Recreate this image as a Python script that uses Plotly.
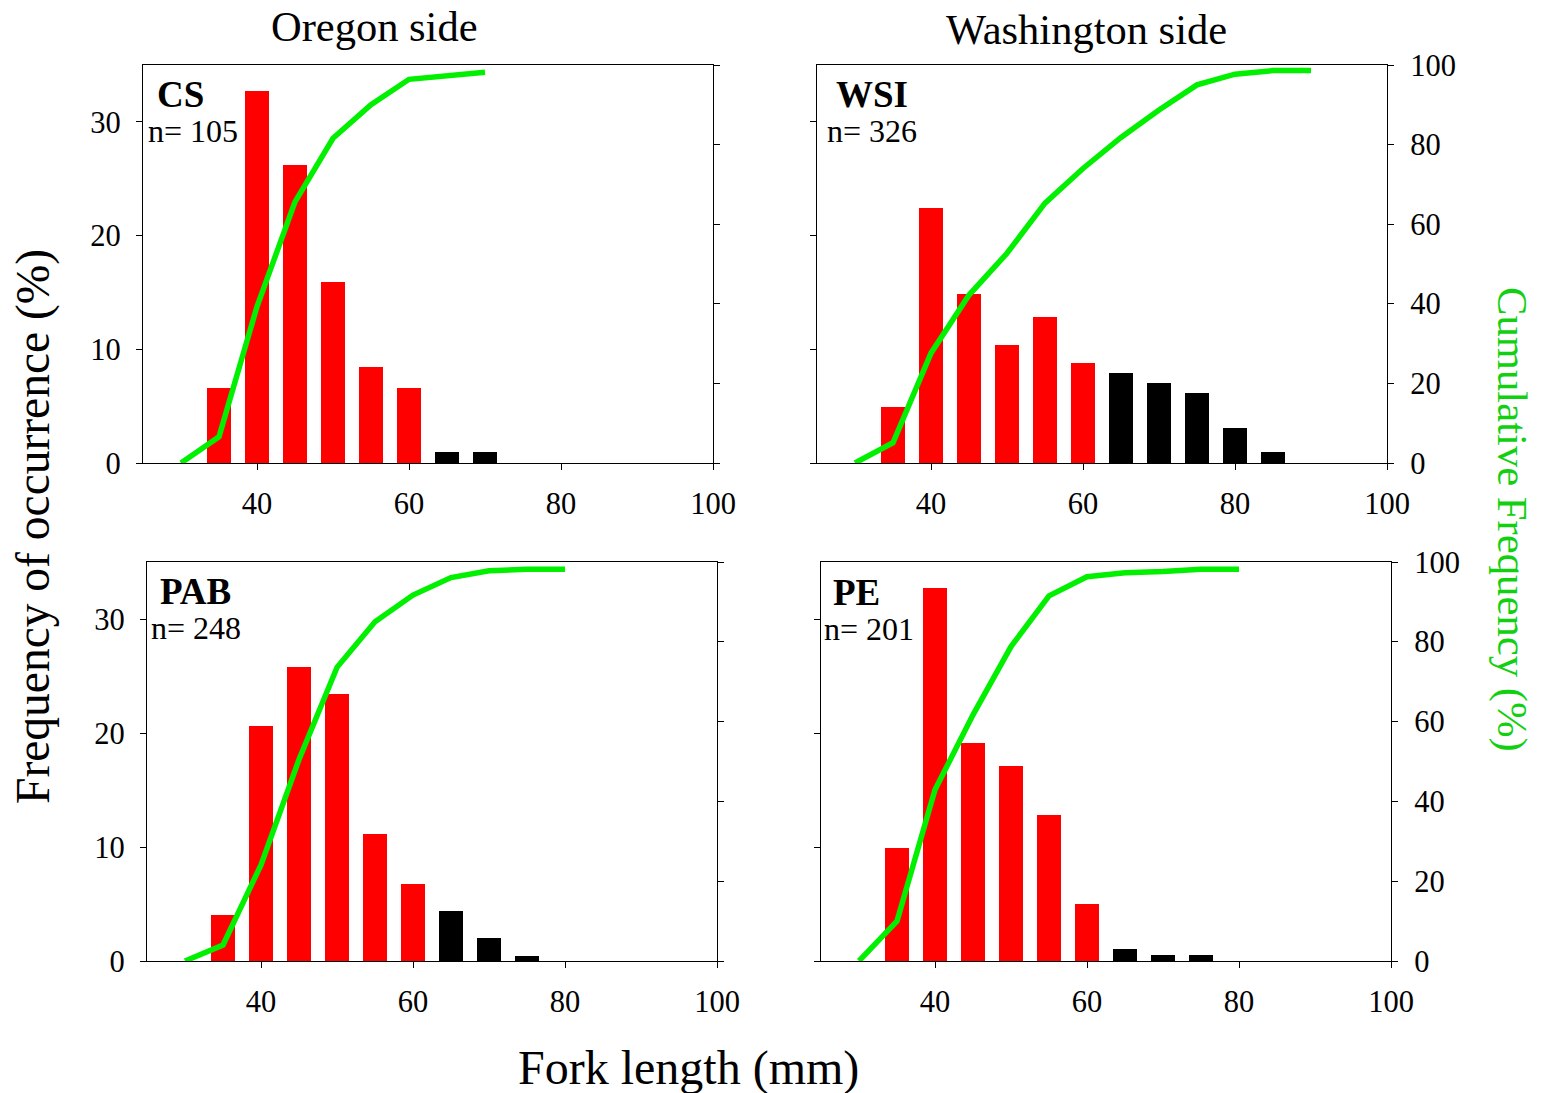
import plotly.graph_objects as go

W, H = 1545, 1093

# ---------------- data ----------------
panel_names = ["CS", "WSI", "PAB", "PE"]
panel_n = ["n= 105", "n= 326", "n= 248", "n= 201"]

cs_len = [35, 40, 45, 50, 55, 60, 65, 70]
cs_freq = [6.6, 32.7, 26.2, 15.9, 8.4, 6.6, 0.95, 0.95]
cs_cum_len = [30, 35, 40, 45, 50, 55, 60, 65, 70]
cs_cum = [0, 6.6, 39.3, 65.6, 81.6, 90.0, 96.4, 97.4, 98.2]

wsi_len = [35, 40, 45, 50, 55, 60, 65, 70, 75, 80, 85]
wsi_freq = [4.9, 22.4, 14.85, 10.35, 12.8, 8.8, 7.95, 7.05, 6.15, 3.1, 1.0]
wsi_cum_len = [30, 35, 40, 45, 50, 55, 60, 65, 70, 75, 80, 85, 90]
wsi_cum = [0, 5.1, 27.6, 42.2, 52.7, 65.3, 74.0, 81.8, 88.7, 95.0, 97.7, 98.6, 98.6]

pab_len = [35, 40, 45, 50, 55, 60, 65, 70, 75]
pab_freq = [4.0, 20.6, 25.8, 23.4, 11.1, 6.75, 4.4, 2.0, 0.45]
pab_cum_len = [30, 35, 40, 45, 50, 55, 60, 65, 70, 75, 80]
pab_cum = [0, 4.0, 24.1, 50.5, 73.6, 85.0, 91.7, 96.1, 97.8, 98.2, 98.2]

pe_len = [35, 40, 45, 50, 55, 60, 65, 70, 75]
pe_freq = [9.9, 32.7, 19.1, 17.1, 12.8, 5.0, 1.05, 0.55, 0.55]
pe_cum_len = [30, 35, 40, 45, 50, 55, 60, 65, 70, 75, 80]
pe_cum = [0, 10.0, 42.9, 61.7, 78.8, 91.5, 96.3, 97.3, 97.6, 98.2, 98.2]

black_from = 65  # bars at/after this length drawn black

x_ticks = [40, 60, 80, 100]
left_ticks = [0, 10, 20, 30]
right_ticks = [0, 20, 40, 60, 80, 100]

panels = [
    (cs_len, cs_freq, cs_cum_len, cs_cum),
    (wsi_len, wsi_freq, wsi_cum_len, wsi_cum),
    (pab_len, pab_freq, pab_cum_len, pab_cum),
    (pe_len, pe_freq, pe_cum_len, pe_cum),
]

# ---------------- layout geometry (pixels) ----------------
boxes = [  # x0, x1, ytop, ybottom
    (143, 713, 65, 463),
    (817, 1387, 65, 463),
    (147, 717, 562, 961),
    (821, 1391, 562, 961),
]

FONT = "Liberation Serif, Times New Roman, serif"
GREEN_LINE = "#00F000"
GREEN_TEXT = "#10D010"
TICKFONT = dict(family=FONT, size=30.5, color="black")

fig = go.Figure()
layout = dict(
    template="none",
    width=W, height=H,
    margin=dict(l=0, r=0, t=0, b=0, autoexpand=False),
    paper_bgcolor="white", plot_bgcolor="white",
    showlegend=False,
    font=dict(family=FONT, size=29, color="black"),
    bargap=0,
)

for i, (lens, freq, clen, cum) in enumerate(panels):
    k = i + 1
    xa = "x" if k == 1 else f"x{k}"
    yl_n = 2 * k - 1
    yr_n = 2 * k
    yl = "y" if yl_n == 1 else f"y{yl_n}"
    yr = f"y{yr_n}"
    colors = ["black" if L >= black_from else "#FF0000" for L in lens]
    fig.add_trace(go.Bar(x=lens, y=freq, width=3.2, marker=dict(color=colors, line=dict(width=0)),
                         xaxis=xa, yaxis=yl))
    fig.add_trace(go.Scatter(x=clen, y=cum, mode="lines", line=dict(color=GREEN_LINE, width=5.5),
                             xaxis=xa, yaxis=yr, cliponaxis=False))

    x0, x1, yt, yb = boxes[i]
    xdom = [x0 / W, x1 / W]
    ydom = [1 - yb / H, 1 - yt / H]
    right_panel = k in (2, 4)
    axkey_x = "xaxis" if k == 1 else f"xaxis{k}"
    axkey_yl = "yaxis" if yl_n == 1 else f"yaxis{yl_n}"
    axkey_yr = f"yaxis{yr_n}"
    common = dict(showline=True, linecolor="black", linewidth=1.3, ticks="outside", ticklen=6,
                  tickwidth=1.2, tickcolor="black", showgrid=False, zeroline=False,
                  automargin=False, tickfont=TICKFONT)
    layout[axkey_x] = dict(domain=xdom, anchor=yl, range=[25, 100], tickvals=x_ticks,
                           mirror=True, ticklabelstandoff=7, **common)
    layout[axkey_yl] = dict(domain=ydom, anchor=xa, range=[0, 35], tickvals=left_ticks,
                            showticklabels=not right_panel, ticklabelstandoff=9, **common)
    layout[axkey_yr] = dict(domain=ydom, anchor=xa, overlaying=yl, side="right", range=[0, 100],
                            tickvals=right_ticks, showticklabels=right_panel,
                            ticklabelstandoff=10, **common)

fig.update_layout(**layout)

ann = []
# panel labels: name (bold) on first line, sample size on second line
lab_pos = [(147, 111), (826, 111), (150, 608), (823, 609)]
for i in range(4):
    nx, cy = lab_pos[i]
    txt = ("<span style='font-size:18px'>\u2002</span>"
           f"<span style='font-size:37px'><b>{panel_names[i]}</b></span><br>"
           f"<span style='font-size:32px'>{panel_n[i]}</span>")
    ann.append(dict(text=txt, x=nx / W, y=1 - cy / H, xref="paper", yref="paper",
                    xanchor="left", yanchor="middle", align="left", showarrow=False, borderpad=0,
                    font=dict(size=27, family=FONT)))

ann.append(dict(text="Oregon side", x=374 / W, y=1 - 27 / H, xref="paper", yref="paper",
                xanchor="center", yanchor="middle", showarrow=False, font=dict(size=42.5, family=FONT)))
ann.append(dict(text="Washington side", x=1086 / W, y=1 - 30 / H, xref="paper", yref="paper",
                xanchor="center", yanchor="middle", showarrow=False, font=dict(size=42.5, family=FONT)))
ann.append(dict(text="Frequency of occurrence (%)", x=33 / W, y=1 - 527 / H, xref="paper", yref="paper",
                xanchor="center", yanchor="middle", showarrow=False, textangle=-90,
                font=dict(size=47.5, family=FONT)))
ann.append(dict(text="Fork length (mm)", x=688 / W, y=1 - 1068 / H, xref="paper", yref="paper",
                xanchor="center", yanchor="middle", showarrow=False, font=dict(size=48, family=FONT)))
ann.append(dict(text="Cumulative Frequency (%)", x=1512 / W, y=1 - 519 / H, xref="paper", yref="paper",
                xanchor="center", yanchor="middle", showarrow=False, textangle=90,
                font=dict(size=42.7, family=FONT, color=GREEN_TEXT)))
fig.update_layout(annotations=ann)

fig.write_html("out.html")
